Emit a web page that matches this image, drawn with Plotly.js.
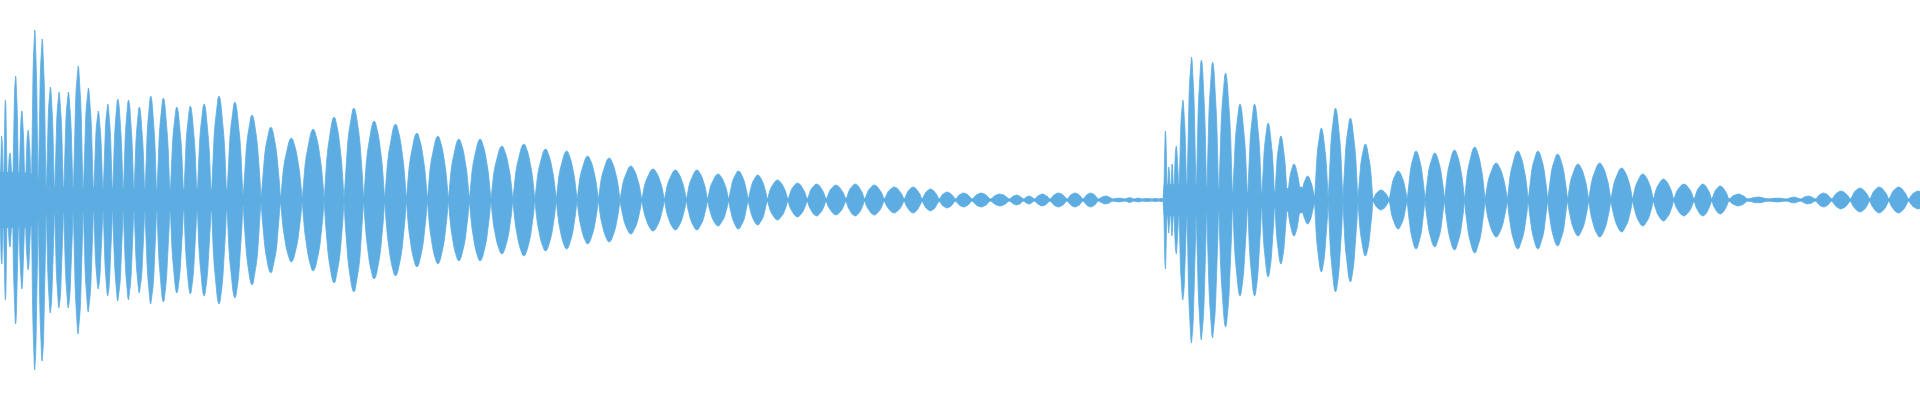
<!DOCTYPE html>
<html>
<head>
<meta charset="utf-8">
<script src="https://cdn.plot.ly/plotly-3.0.1.min.js"></script>
<style>html,body{margin:0;padding:0;background:#fff;}#chart{width:1920px;height:400px;}</style>
</head>
<body>
<div id="chart"></div>
<script>
// Waveform: each beat lobe = centre position + peak amplitude (full scale = 1)
const lobeCenter = [
  1.7, 5.3, 9.3, 15.7, 21.7, 28.3, 34.3, 42, 50.3, 58.7, 68.3, 78, 88.3, 98.7,
  107.3, 117.7, 128.7, 139, 150.7, 162.7, 177.3, 190, 204, 218.5, 235, 251, 271, 290,
  314.3, 334, 354, 373.3, 396, 416.7, 438, 458.7, 480, 501.7, 524, 545.7, 566.7, 587.3,
  609.3, 630.7, 652.7, 676, 696.7, 718.3, 739, 757.3, 777.3, 798.3, 816, 836, 855.7,
  873.3, 895, 913.3, 930.7, 947.3, 963.3, 980.7, 1000, 1019, 1028, 1041, 1059, 1075,
  1091, 1105.7, 1120, 1130, 1138, 1147, 1156, 1162,
  1165.3, 1169, 1172, 1175.3, 1182.3, 1191.3, 1201, 1212.3, 1225, 1240, 1255, 1268.3,
  1281, 1293.3, 1308.3, 1320.7, 1335.7, 1350, 1365.7, 1380, 1398.3, 1416, 1434, 1455,
  1474, 1496, 1518.7, 1537.7, 1557.7, 1577.3, 1600, 1621.7, 1643.3, 1663.3, 1684, 1704,
  1719.3, 1738.3, 1757, 1780, 1793, 1808.3, 1822.7, 1840.7, 1860, 1879.3, 1898.3, 1918.3
];
const lobeAmp = [
  0.32, 0.50, 0.235, 0.62, 0.445, 0.35, 0.85, 0.805, 0.565, 0.54, 0.54, 0.67, 0.56, 0.445,
  0.48, 0.505, 0.50, 0.465, 0.52, 0.51, 0.465, 0.47, 0.48, 0.52, 0.49, 0.425, 0.365, 0.31,
  0.355, 0.415, 0.46, 0.395, 0.38, 0.335, 0.32, 0.305, 0.305, 0.27, 0.28, 0.255, 0.245, 0.22,
  0.21, 0.17, 0.155, 0.15, 0.15, 0.13, 0.145, 0.125, 0.10, 0.085, 0.08, 0.075, 0.08,
  0.075, 0.065, 0.065, 0.055, 0.04, 0.035, 0.035, 0.03, 0.025, 0.02, 0.03, 0.035, 0.035,
  0.035, 0.02, 0.01, 0.0125, 0.01, 0.0075, 0.0075, 0.0075,
  0.345, 0.165, 0.18, 0.27, 0.50, 0.715, 0.70, 0.69, 0.635, 0.48, 0.48, 0.385,
  0.32, 0.18, 0.12, 0.36, 0.46, 0.41, 0.28, 0.05, 0.145, 0.245, 0.235, 0.25,
  0.265, 0.185, 0.245, 0.245, 0.23, 0.18, 0.185, 0.16, 0.13, 0.105, 0.08, 0.08,
  0.07, 0.03, 0.015, 0.01, 0.015, 0.02, 0.035, 0.045, 0.06, 0.065, 0.065, 0.045
];
// Dense core between lobes (carrier floor)
const bandX   = [0, 30, 38, 46, 100, 230, 242, 262, 290, 330, 1110, 1163, 1164, 1190, 1215, 1235, 1262, 1278, 1290, 1301, 1308, 1314, 1330, 1920];
const bandAmp = [0.14, 0.135, 0.11, 0.065, 0.06, 0.055, 0.03, 0.02, 0.0125, 0.008, 0.006, 0.006, 0.075, 0.085, 0.06, 0.04, 0.03, 0.045, 0.06, 0.065, 0.055, 0.02, 0.008, 0.006];

// drawing style
const COLOR = '#5dade2';
// outline of one lobe (fraction of its peak along its width)
const PROFILE = [0, 0.26, 0.47, 0.62, 0.74, 0.84, 0.92, 0.98, 1, 0.98, 0.92, 0.84, 0.74, 0.62, 0.47, 0.26, 0];

const lx = [], ly = [];
const n = lobeCenter.length;
for (let i = 0; i < n; i++) {
  const c = lobeCenter[i];
  const right = i < n - 1 ? (c + lobeCenter[i + 1]) / 2 : c + (c - lobeCenter[i - 1]) / 2;
  const left = i > 0 ? (lobeCenter[i - 1] + c) / 2 : c - (lobeCenter[i + 1] - c) / 2;
  const m = PROFILE.length - 1;
  for (let k = 0; k <= m; k++) { lx.push(left + (right - left) * k / m); ly.push(lobeAmp[i] * PROFILE[k]); }
  for (let k = m; k >= 0; k--) { lx.push(left + (right - left) * k / m); ly.push(-lobeAmp[i] * PROFILE[k]); }
  lx.push(null); ly.push(null);
}

const bx = bandX.concat(bandX.slice().reverse());
const by = bandAmp.concat(bandAmp.slice().reverse().map(v => -v));

const traces = [
  { x: bx, y: by, type: 'scatter', mode: 'lines', fill: 'toself', fillcolor: COLOR,
    line: { color: COLOR, width: 0.6 }, hoverinfo: 'skip', showlegend: false },
  { x: lx, y: ly, type: 'scatter', mode: 'lines', fill: 'toself', fillcolor: COLOR,
    line: { color: COLOR, width: 0.8 }, connectgaps: false, hoverinfo: 'skip', showlegend: false }
];

const layout = {
  width: 1920, height: 400,
  margin: { l: 0, r: 0, t: 0, b: 0, pad: 0 },
  paper_bgcolor: '#ffffff', plot_bgcolor: '#ffffff',
  showlegend: false,
  xaxis: { range: [0, 1920], visible: false, fixedrange: true },
  yaxis: { range: [-1, 1], visible: false, fixedrange: true }
};

Plotly.newPlot('chart', traces, layout, { displayModeBar: false, staticPlot: true });
</script>
</body>
</html>
